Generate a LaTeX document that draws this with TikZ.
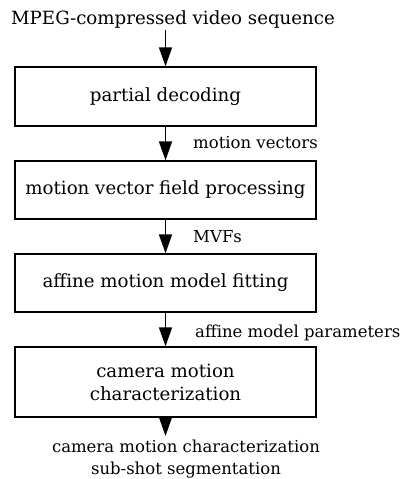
\documentclass[tikz,border=0pt]{standalone}
\usepackage{fontspec}
\setmainfont{DejaVu Serif}
\usetikzlibrary{arrows.meta}
\begin{document}
\begin{tikzpicture}[x=1pt,y=-1pt,
  box/.style={draw,line width=1.3pt,minimum width=301pt,inner sep=0pt,font=\fontsize{18.2}{23}\selectfont,align=center},
  lbl/.style={font=\fontsize{16.5}{19}\selectfont,anchor=west,inner sep=0pt},
  outl/.style={font=\fontsize{16.5}{22}\selectfont,inner sep=0pt,align=center},
  flow/.style={line width=1.5pt,-{Triangle[width=13pt,length=19pt]}}]
\useasboundingbox (0,0) rectangle (402,479);
\node[font=\fontsize{18.2}{23}\selectfont,inner sep=0pt] (src) at (173,19) {MPEG-compressed video sequence};
\node[box,minimum height=59pt] (b1) at (165.5,96.5) {partial decoding};
\node[box,minimum height=58pt] (b2) at (165.5,190) {motion vector field processing};
\node[box,minimum height=58pt] (b3) at (165.5,283) {affine motion model fitting};
\node[box,minimum height=70pt] (b4) at (165.5,382) {camera motion\\characterization};
\coordinate (srcb) at (165.5,30);
\coordinate (out) at (165.5,436);
\node[lbl] (l1) at (193,143) {motion vectors};
\node[lbl] (l2) at (193,237) {MVFs};
\node[lbl] (l3) at (195,333) {affine model parameters};
\node[outl] (o) at (186,459) {camera motion characterization\\sub-shot segmentation};
\draw[flow] (srcb) -- (b1.north);
\draw[flow] (b1.south) -- (b2.north);
\draw[flow] (b2.south) -- (b3.north);
\draw[flow] (b3.south) -- (b4.north);
\draw[flow] (b4.south) -- (out);
\end{tikzpicture}
\end{document}
